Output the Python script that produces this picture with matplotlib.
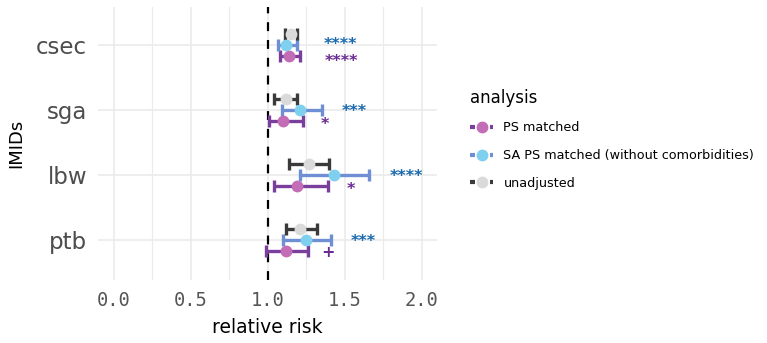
import matplotlib
matplotlib.use("Agg")
import matplotlib.pyplot as plt
from matplotlib.lines import Line2D
import numpy as np

# categories from bottom to top
outcomes = ["ptb", "lbw", "sga", "csec"]
analyses = ["PS matched", "SA PS matched (without comorbidities)", "unadjusted"]

# relative risk and 95% CI per analysis, order follows outcomes
rr = {
    "PS matched": [1.12, 1.19, 1.10, 1.14],
    "SA PS matched (without comorbidities)": [1.25, 1.43, 1.21, 1.12],
    "unadjusted": [1.21, 1.27, 1.12, 1.15],
}
lo = {
    "PS matched": [0.99, 1.04, 1.01, 1.08],
    "SA PS matched (without comorbidities)": [1.10, 1.21, 1.09, 1.065],
    "unadjusted": [1.12, 1.14, 1.04, 1.11],
}
hi = {
    "PS matched": [1.26, 1.39, 1.23, 1.21],
    "SA PS matched (without comorbidities)": [1.41, 1.66, 1.35, 1.19],
    "unadjusted": [1.32, 1.40, 1.19, 1.19],
}

# significance labels and where they sit
sig_labels = {
    "PS matched": ["+", "*", "*", "****"],
    "SA PS matched (without comorbidities)": ["***", "****", "***", "****"],
}
sig_x = {
    "PS matched": [1.39, 1.54, 1.37, 1.48],
    "SA PS matched (without comorbidities)": [1.62, 1.90, 1.56, 1.47],
}
sig_dy = {
    "PS matched": [-0.03, -0.055, -0.055, -0.078],
    "SA PS matched (without comorbidities)": [-0.03, -0.03, -0.03, 0.0],
}

bar_col = {"PS matched": "#7A3F9D",
           "SA PS matched (without comorbidities)": "#6E8FD3",
           "unadjusted": "#3A3A3A"}
pt_col = {"PS matched": "#C26DB6",
          "SA PS matched (without comorbidities)": "#7FD0EE",
          "unadjusted": "#DADADA"}
sig_col = {"PS matched": "#6B2C91",
           "SA PS matched (without comorbidities)": "#1B6AAE"}
offset = {"PS matched": -0.17,
          "SA PS matched (without comorbidities)": 0.0,
          "unadjusted": 0.17}

fig = plt.figure(figsize=(7.67, 3.43), dpi=100)
ax = fig.add_axes([0.128, 0.184, 0.442, 0.796])

ypos = np.arange(1, len(outcomes) + 1)

for a in analyses:
    y = ypos + offset[a]
    x = np.array(rr[a])
    err = [x - np.array(lo[a]), np.array(hi[a]) - x]
    ax.errorbar(x, y, xerr=err, fmt="none", ecolor=bar_col[a],
                elinewidth=2.4, capsize=4, capthick=2.4, zorder=3)
    ax.plot(x, y, "o", color=pt_col[a], markersize=7.5, zorder=4)

for a in sig_labels:
    for i, lab in enumerate(sig_labels[a]):
        ax.text(sig_x[a][i], ypos[i] + offset[a] + sig_dy[a][i], lab,
                color=sig_col[a], fontsize=11.5, fontweight="bold",
                ha="center", va="center")

ax.axvline(1.0, color="black", lw=1.6, dashes=(4, 4), zorder=2)

ax.set_xlim(-0.1, 2.1)
ax.set_ylim(0.385, 4.585)
ax.set_xticks([0.0, 0.5, 1.0, 1.5, 2.0])
ax.set_xticklabels(["0.0", "0.5", "1.0", "1.5", "2.0"],
                   family="DejaVu Sans Mono", fontsize=13.5, color="#555555")
ax.set_xticks(np.arange(0.25, 2.1, 0.5), minor=True)
ax.set_yticks(ypos)
ax.set_yticklabels(outcomes, fontsize=16.5, color="#4D4D4D")
ax.tick_params(axis="both", which="both", length=0, pad=8)
ax.grid(which="major", color="#EBEBEB", lw=1.2)
ax.grid(which="minor", axis="x", color="#EBEBEB", lw=0.8)
ax.set_axisbelow(True)
for s in ax.spines.values():
    s.set_visible(False)

ax.set_xlabel("relative risk", fontsize=13.5, labelpad=6)
ax.set_ylabel("IMIDs", fontsize=13, labelpad=8)

handles = [Line2D([0], [0], color=bar_col[a], lw=3, linestyle=(0, (1.2, 1.2)),
                  marker="o", markersize=7.5, markerfacecolor=pt_col[a],
                  markeredgecolor=pt_col[a]) for a in analyses]
leg = fig.legend(handles, analyses, loc="upper left",
                 bbox_to_anchor=(0.598, 0.775), frameon=False,
                 title="analysis", fontsize=9.2, title_fontsize=12,
                 handlelength=1.8, handletextpad=0.8, labelspacing=1.15)
leg._legend_box.align = "left"

fig.savefig("out.png", dpi=100)
